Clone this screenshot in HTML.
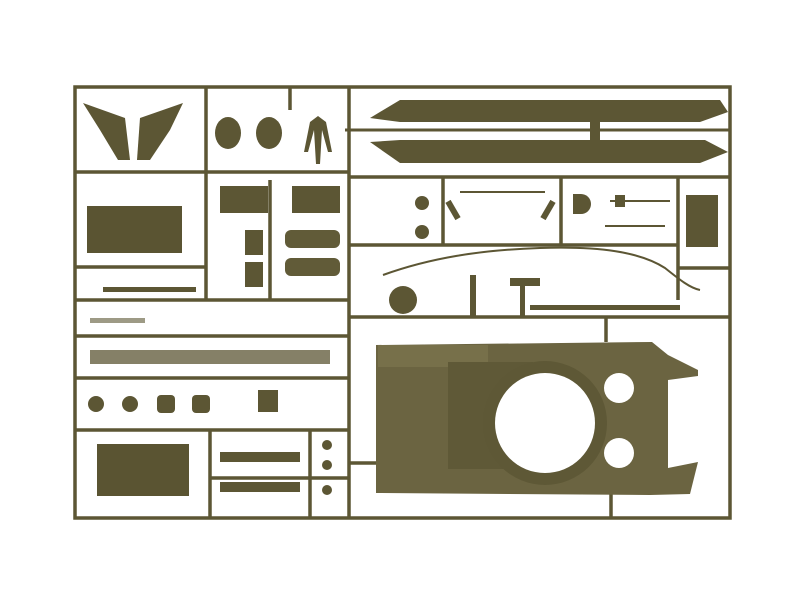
<!DOCTYPE html>
<html><head><style>
html,body{margin:0;padding:0;background:#fff;width:800px;height:600px;overflow:hidden}
</style></head><body>
<svg width="800" height="600" viewBox="0 0 800 600" xmlns="http://www.w3.org/2000/svg">
<rect width="800" height="600" fill="#fff"/>
<g stroke="#5c5634" stroke-width="3.5" fill="none">
<rect x="75" y="87" width="655" height="431"/>
<line x1="349" y1="87" x2="349" y2="518"/>
<line x1="206" y1="87" x2="206" y2="300"/>
<line x1="75" y1="172" x2="349" y2="172"/>
<line x1="349" y1="177" x2="730" y2="177"/>
<line x1="75" y1="267" x2="206" y2="267"/>
<line x1="75" y1="300" x2="349" y2="300"/>
<line x1="75" y1="336" x2="349" y2="336"/>
<line x1="75" y1="378" x2="349" y2="378"/>
<line x1="75" y1="430" x2="349" y2="430"/>
<line x1="210" y1="478" x2="349" y2="478"/>
<line x1="210" y1="430" x2="210" y2="518"/>
<line x1="310" y1="430" x2="310" y2="518"/>
<line x1="349" y1="317" x2="730" y2="317"/>
<line x1="606" y1="317" x2="606" y2="342"/>
<line x1="611" y1="493" x2="611" y2="518"/>
<line x1="349" y1="463" x2="376" y2="463"/>
<line x1="678" y1="177" x2="678" y2="300"/>
<line x1="678" y1="268" x2="730" y2="268"/>
<line x1="443" y1="177" x2="443" y2="245"/>
<line x1="561" y1="177" x2="561" y2="245"/>
<line x1="349" y1="245" x2="678" y2="245"/>
<line x1="290" y1="87" x2="290" y2="110"/>
<line x1="270" y1="180" x2="270" y2="300"/>
<line x1="345" y1="130" x2="730" y2="130" stroke-width="3"/>
<path d="M383,275 C430,258 480,250 540,248 C600,246 640,252 665,268 C680,280 690,288 700,290" stroke-width="2"/>
</g>
<g fill="#5c5634">
<polygon points="83,103 125,118 130,160 118,160 100,130"/>
<polygon points="183,103 140,118 137,160 150,160 170,130"/>
<ellipse cx="228" cy="133" rx="13" ry="16"/>
<ellipse cx="269" cy="133" rx="13" ry="16"/>
<path d="M310,122 l8,-6 l8,6 l6,30 l-4,0 l-6,-22 l-2,34 l-4,0 l-2,-34 l-6,22 l-4,0z"/>
<rect x="87" y="206" width="95" height="47" fill="#5a5432"/>
<rect x="220" y="186" width="48" height="27"/>
<rect x="292" y="186" width="48" height="27"/>
<rect x="245" y="230" width="18" height="25"/>
<rect x="245" y="262" width="18" height="25"/>
<rect x="285" y="230" width="55" height="18" rx="6" fill="#615b38"/>
<rect x="285" y="258" width="55" height="18" rx="6" fill="#615b38"/>
<rect x="103" y="287" width="93" height="5"/>
<path d="M370,118 L400,100 L720,100 L728,112 L700,122 L400,122z"/>
<path d="M370,142 L400,163 L700,163 L728,152 L705,140 L400,140z"/>
<rect x="590" y="115" width="10" height="32"/>
<rect x="686" y="195" width="32" height="52"/>
<path d="M573,194 h8 a10,10 0 0 1 0,20 h-8z"/>
<rect x="615" y="195" width="10" height="12"/>
<circle cx="422" cy="203" r="7"/><circle cx="422" cy="232" r="7"/>
<rect x="450" y="200" width="6" height="20" transform="rotate(-30 453 210)"/>
<rect x="545" y="200" width="6" height="20" transform="rotate(30 548 210)"/>
<line x1="460" y1="192" x2="545" y2="192" stroke="#5c5634" stroke-width="2"/>
<line x1="610" y1="201" x2="670" y2="201" stroke="#5c5634" stroke-width="2"/>
<line x1="605" y1="226" x2="665" y2="226" stroke="#5c5634" stroke-width="2"/>
<circle cx="403" cy="300" r="14"/>
<rect x="470" y="275" width="6" height="42"/>
<rect x="520" y="285" width="5" height="32"/>
<rect x="510" y="278" width="30" height="8"/>
<rect x="530" y="305" width="150" height="5"/>
<rect x="90" y="318" width="55" height="5" opacity="0.6"/>
<rect x="90" y="350" width="240" height="14" opacity="0.75"/>
<circle cx="96" cy="404" r="8"/>
<circle cx="130" cy="404" r="8"/>
<rect x="157" y="395" width="18" height="18" rx="4"/>
<rect x="192" y="395" width="18" height="18" rx="4"/>
<rect x="258" y="390" width="20" height="22"/>
<rect x="97" y="444" width="92" height="52" fill="#5a5432"/>
<rect x="220" y="452" width="80" height="10"/>
<rect x="220" y="482" width="80" height="10"/>
<circle cx="327" cy="445" r="5"/><circle cx="327" cy="465" r="5"/><circle cx="327" cy="490" r="5"/>
<!-- hull -->
<path d="M376,345 L652,342 L668,355 L698,370 L698,376 L668,380 L668,468 L698,462 L690,494 L650,495 L376,493z" fill="#6b6441"/>
<rect x="378" y="345" width="110" height="22" fill="#77704a"/>
<rect x="448" y="362" width="85" height="107" fill="#5f5937"/>
<circle cx="545" cy="423" r="62" fill="#5e5836"/>
<circle cx="545" cy="423" r="50" fill="#fff"/>
<circle cx="619" cy="388" r="15" fill="#fff"/>
<circle cx="619" cy="453" r="15" fill="#fff"/>
</g>
</svg>
</body></html>
